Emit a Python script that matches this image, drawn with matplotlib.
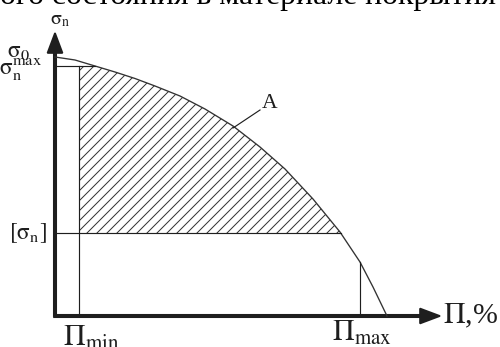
import numpy as np
import matplotlib.pyplot as plt

plt.rcParams['font.family'] = ['Liberation Serif', 'DejaVu Serif']
plt.rcParams['mathtext.fontset'] = 'stix'
plt.rcParams['hatch.linewidth'] = 0.6

# кривая A: пористость П (%) -> напряжение (в условных единицах)
pi_curve = [0, 20, 40, 60, 80, 100, 125, 150, 178, 205, 230, 258, 285, 305, 318, 332]
sigma_curve = [259, 256, 250, 244, 237.5, 230, 220, 207, 190, 169, 147, 117, 84, 54, 29, 0]

sigma_max = 250      # σn^max
sigma_allow = 83     # [σn]
pi_min = 24
pi_max = 305

ink = '#1e1e1e'

fig = plt.figure(figsize=(500 / 120, 347 / 120), dpi=120)
ax = fig.add_axes([0, 0, 1, 1])
ax.set_xlim(-55, 445)
ax.set_ylim(-31, 316)
ax.axis('off')

pc = np.array(pi_curve, dtype=float)
sc = np.array(sigma_curve, dtype=float)

# пересечения горизонталей с кривой
x_smax = np.interp(sigma_max, sc[::-1], pc[::-1])
x_allow = np.interp(sigma_allow, sc[::-1], pc[::-1])
s_pimax = np.interp(pi_max, pc, sc)

# заштрихованная область
xs = np.concatenate(([pi_min], pc[(pc > pi_min) & (pc < x_allow)], [x_allow]))
top = np.minimum(np.interp(xs, pc, sc), sigma_max)
ax.fill_between(xs, sigma_allow, top, facecolor='none', edgecolor='#333333',
                hatch='////', linewidth=0)

# кривая A
ax.plot(pc, sc, color='#333333', lw=0.8)

# вспомогательные линии
ax.plot([0, x_smax], [sigma_max, sigma_max], color=ink, lw=0.7)
ax.plot([0, x_allow], [sigma_allow, sigma_allow], color=ink, lw=0.7)
ax.plot([pi_min, pi_min], [0, sigma_max], color=ink, lw=0.7)
ax.plot([pi_max, pi_max], [0, s_pimax], color=ink, lw=0.7)

# оси со стрелками
ax.arrow(0, 0, 0, 283, width=2.4, head_width=15, head_length=20,
         length_includes_head=True, fc=ink, ec=ink)
ax.arrow(-1, 0, 386, 0, width=2.4, head_width=15, head_length=20,
         length_includes_head=True, fc=ink, ec=ink)

# выноска A
ax.plot([178, 205], [188, 206], color=ink, lw=0.7)
ax.text(215, 213, 'A', fontsize=13, color=ink, ha='center', va='center')

# подписи
ax.text(5, 296, r'$\mathrm{\sigma_n}$', fontsize=12, color=ink, ha='center', va='center')
ax.text(-37, 264, r'$\mathrm{\sigma_0}$', fontsize=14, color=ink, ha='center', va='center')
ax.text(-34, 247, r'$\mathrm{\sigma_n^{max}}$', fontsize=14, color=ink,
        ha='center', va='center')
ax.text(-27, sigma_allow, r'$\mathrm{[\sigma_n]}$', fontsize=14, color=ink,
        ha='center', va='center')
ax.text(pi_min + 12, -22, r'$\mathrm{\Pi_{min}}$', fontsize=18, color=ink,
        ha='center', va='center')
ax.text(pi_max + 2, -17, r'$\mathrm{\Pi_{max}}$', fontsize=18, color=ink,
        ha='center', va='center')
ax.text(388, 0, r'$\mathrm{\Pi}$,%', fontsize=18, color=ink, ha='left', va='center')

# обрезанная строка текста сверху
ax.text(-55, 312, 'ого состояния в материале покрытия', fontsize=19, color='black',
        ha='left', va='baseline')

plt.savefig('out.png', dpi=120)
